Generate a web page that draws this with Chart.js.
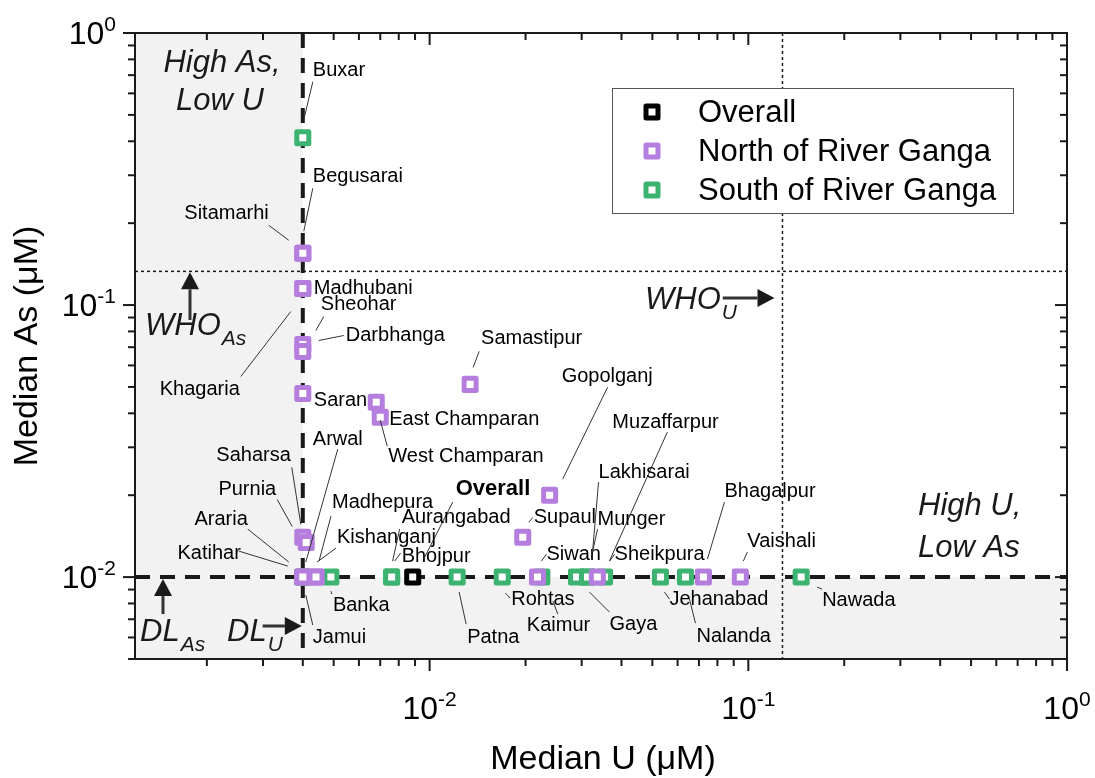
<!DOCTYPE html>
<html>
<head>
<meta charset="utf-8">
<script src="https://cdn.jsdelivr.net/npm/chart.js@4.4.1/dist/chart.umd.min.js"></script>
<style>
  html, body { margin: 0; padding: 0; background: #fff; }
</style>
</head>
<body>
<canvas id="chart" width="1095" height="778"></canvas>
<script>
// ------------ DATA (median values, µM) ---------------
const overallU = [0.00885];
const overallAs = [0.01];

const northNames = ['Begusarai', 'Sitamarhi', 'Madhubani', 'Khagaria', 'Sheohar', 'Darbhanga', 'Saran',
  'East Champaran', 'West Champaran', 'Samastipur', 'Gopolganj', 'Supaul', 'Saharsa', 'Purnia',
  'Araria', 'Katihar', 'Madhepura', 'Kishanganj', 'Siwan', 'Muzaffarpur', 'Bhagalpur', 'Vaishali'];
const northU = [0.004, 0.004, 0.004, 0.004, 0.004, 0.004, 0.004,
  0.0068, 0.0070, 0.0134, 0.0238, 0.0196, 0.004, 0.0041,
  0.004, 0.004, 0.0044, 0.0044, 0.0218, 0.0336, 0.0723, 0.0944];
const northAs = [0.155, 0.155, 0.115, 0.115, 0.0716, 0.0675, 0.0473,
  0.0439, 0.0387, 0.0511, 0.0200, 0.0140, 0.0140, 0.0134,
  0.01, 0.01, 0.01, 0.01, 0.01, 0.01, 0.01, 0.01];

const southNames = ['Buxar', 'Arwal', 'Jamui', 'Banka', 'Aurangabad', 'Bhojpur', 'Patna', 'Rohtas',
  'Kaimur', 'Gaya', 'Lakhisarai', 'Munger', 'Sheikpura', 'Jehanabad', 'Nalanda', 'Nawada'];
const southU = [0.004, 0.004, 0.004, 0.0049, 0.0076, 0.0076, 0.0122, 0.0169,
  0.0225, 0.0289, 0.0313, 0.0313, 0.0354, 0.0530, 0.0635, 0.1465];
const southAs = [0.412, 0.01, 0.01, 0.01, 0.01, 0.01, 0.01, 0.01,
  0.01, 0.01, 0.01, 0.01, 0.01, 0.01, 0.01, 0.01];

// thresholds
const dlU = 0.004, dlAs = 0.01;
const whoU = 0.128, whoAs = 0.133;

// axis decades shown with labels
const xDecades = [0.01, 0.1, 1];
const yDecades = [0.01, 0.1, 1];

// ------------ LABEL LAYOUT (px offsets from the marker) ---------------
// [dx, dy, align, leader x1, y1, x2, y2]
const labelLayout = {
  'Overall':        [43, -88, 'left', 12, -20, 40, -75],
  'Buxar':          [10, -67, 'left', 1, -18, 10, -56],
  'Begusarai':      [10, -77, 'left', 1, -22, 10, -65],
  'Sitamarhi':      [-34, -40, 'right', -14, -13, -34, -28],
  'Madhubani':      [11, 0, 'left'],
  'Khagaria':       [-63, 101, 'right', -12, 23, -62, 88],
  'Sheohar':        [18, -40, 'left', 13, -14, 21, -28],
  'Darbhanga':      [43, -16, 'left', 16, -11, 41, -16],
  'Saran':          [11, 7, 'left'],
  'East Champaran': [13, 17, 'left'],
  'West Champaran': [8, 39, 'left', 0, 3, 7, 29],
  'Samastipur':     [11, -46, 'left', 3, -17, 9, -33],
  'Gopolganj':      [12, -119, 'left', 13, -16, 58, -108],
  'Supaul':         [11, -20, 'left', 6, -15, 10, -20],
  'Saharsa':        [-12, -82, 'right', -2, -13, -11, -70],
  'Purnia':         [-30, -53, 'right', -14, -16, -29, -43],
  'Arwal':          [10, -138, 'left', 3, -15, 35, -128],
  'Araria':         [-55, -58, 'right', -14, -15, -55, -48],
  'Katihar':        [-62, -24, 'right', -15, -11, -64, -26],
  'Jamui':          [10, 60, 'left', 3, 18, 10, 48],
  'Madhepura':      [16, -75, 'left', 3, -16, 15, -61],
  'Kishanganj':     [21, -40, 'left', 1, -15, 20, -29],
  'Banka':          [2, 28, 'left', 0, 14, 1, 17],
  'Aurangabad':     [10, -60, 'left', 1, -16, 8, -48],
  'Bhojpur':        [10, -21, 'left', 3, -16, 9, -24],
  'Patna':          [10, 60, 'left', 2, 15, 9, 47],
  'Rohtas':         [9, 22, 'left', 3, 16, 8, 21],
  'Kaimur':         [-15, 48, 'left', 11, 24, 16, 37],
  'Siwan':          [9, -23, 'left', 4, -16, 9, -23],
  'Lakhisarai':     [11, -105, 'left', 5, -25, 11, -95],
  'Munger':         [10, -58, 'left', 5, -25, 10, -48],
  'Gaya':           [33, 47, 'left', 13, 15, 33, 35],
  'Muzaffarpur':    [15, -155, 'left', 12, -16, 70, -145],
  'Sheikpura':      [10, -23, 'left', 5, -16, 10, -23],
  'Jehanabad':      [9, 22, 'left', 4, 15, 9, 22],
  'Nalanda':        [11, 59, 'left', 4, 22, 10, 46],
  'Bhagalpur':      [21, -86, 'left', 4, -18, 21, -75],
  'Vaishali':       [7, -36, 'left', 3, -16, 7, -25],
  'Nawada':         [21, 23, 'left', 16, 10, 21, 12]
};

const FONT = '"Liberation Sans", Arial, sans-serif';
const INK = '#1a1a1a';

const toPoints = (names, us, as) => us.map((u, i) => ({ x: u, y: as[i], name: names[i] }));

function line(ctx, x1, y1, x2, y2) {
  ctx.beginPath();
  ctx.moveTo(x1, y1);
  ctx.lineTo(x2, y2);
  ctx.stroke();
}

function arrow(ctx, x1, y1, x2, y2) {
  const ang = Math.atan2(y2 - y1, x2 - x1);
  const head = 17, half = 9;
  const bx = x2 - head * Math.cos(ang), by = y2 - head * Math.sin(ang);
  ctx.lineWidth = 3;
  ctx.setLineDash([]);
  line(ctx, x1, y1, bx, by);
  ctx.beginPath();
  ctx.moveTo(x2, y2);
  ctx.lineTo(bx + half * Math.sin(ang), by - half * Math.cos(ang));
  ctx.lineTo(bx - half * Math.sin(ang), by + half * Math.cos(ang));
  ctx.closePath();
  ctx.fill();
}

// italic text with subscript, returns width of main part
function subText(ctx, main, sub, x, y) {
  ctx.textAlign = 'left';
  ctx.textBaseline = 'middle';
  ctx.font = 'italic 31px ' + FONT;
  ctx.fillText(main, x, y);
  const w = ctx.measureText(main).width;
  ctx.font = 'italic 21px ' + FONT;
  ctx.fillText(sub, x + w + 1, y + 13);
  return w;
}

function powLabel(ctx, exp, x, y, align) {
  ctx.textBaseline = 'middle';
  ctx.textAlign = 'left';
  ctx.font = '32px ' + FONT;
  const wb = ctx.measureText('10').width;
  ctx.font = '21px ' + FONT;
  const ws = ctx.measureText(exp).width;
  let left = align === 'right' ? x - wb - ws : x - (wb + ws) / 2;
  ctx.font = '32px ' + FONT;
  ctx.fillText('10', left, y);
  ctx.font = '21px ' + FONT;
  ctx.fillText(exp, left + wb, y - 10);
}

function marker(ctx, x, y, color) {
  ctx.save();
  ctx.lineJoin = 'round';
  ctx.lineWidth = 5;
  ctx.strokeStyle = color;
  ctx.fillStyle = '#fff';
  ctx.fillRect(x - 6, y - 6, 12, 12);
  ctx.strokeRect(x - 6, y - 6, 12, 12);
  ctx.restore();
}

const decor = {
  id: 'decor',
  beforeDatasetsDraw(chart) {
    const { ctx, chartArea: a, scales: { x, y } } = chart;
    const xd = x.getPixelForValue(dlU), yd = y.getPixelForValue(dlAs);
    const xw = x.getPixelForValue(whoU), yw = y.getPixelForValue(whoAs);
    ctx.save();
    // shaded "below detection" zones
    ctx.fillStyle = '#f2f2f2';
    ctx.fillRect(a.left, a.top, xd - a.left, a.bottom - a.top);
    ctx.fillRect(a.left, yd, a.right - a.left, a.bottom - yd);
    // WHO guideline lines
    ctx.strokeStyle = INK;
    ctx.lineWidth = 1.5;
    ctx.setLineDash([3, 3]);
    line(ctx, a.left, yw, a.right, yw);
    line(ctx, xw, a.top, xw, a.bottom);
    // detection limits
    ctx.lineWidth = 4;
    ctx.setLineDash([15, 10]);
    line(ctx, xd, a.top, xd, a.bottom);
    line(ctx, a.left, yd, a.right, yd);
    ctx.restore();
    ctx.lineJoin = 'round';
  },
  afterDatasetsDraw(chart) {
    chart.ctx.lineJoin = 'miter';
  },
  afterDraw(chart) {
    const { ctx, chartArea: a, scales: { x, y } } = chart;
    ctx.save();

    // ---- frame and ticks
    ctx.strokeStyle = INK;
    ctx.fillStyle = INK;
    ctx.lineWidth = 2;
    ctx.setLineDash([]);
    ctx.strokeRect(a.left, a.top, a.right - a.left, a.bottom - a.top);
    for (let e = -4; e <= 0; e++) {
      for (let m = 1; m <= 9; m++) {
        const v = m * Math.pow(10, e);
        const major = m === 1;
        const len = major ? 12 : 7;
        if (v >= x.min * 0.999 && v <= x.max * 1.001) {
          const px = x.getPixelForValue(v);
          line(ctx, px, a.bottom, px, a.bottom + len);
          line(ctx, px, a.top, px, a.top + len);
        }
        if (v >= y.min * 0.999 && v <= y.max * 1.001) {
          const py = y.getPixelForValue(v);
          line(ctx, a.left, py, a.left - len, py);
          line(ctx, a.right, py, a.right - len, py);
        }
      }
    }
    ctx.fillStyle = '#000';
    xDecades.forEach(v => powLabel(ctx, String(Math.round(Math.log10(v))), x.getPixelForValue(v), 710, 'center'));
    yDecades.forEach(v => powLabel(ctx, String(Math.round(Math.log10(v))), a.left - 19, y.getPixelForValue(v) + 2, 'right'));

    // ---- axis titles
    ctx.font = '34px ' + FONT;
    ctx.textAlign = 'center';
    ctx.textBaseline = 'middle';
    ctx.fillText('Median U (μM)', 603, 760);
    ctx.save();
    ctx.translate(28, 346);
    ctx.rotate(-Math.PI / 2);
    ctx.fillText('Median As (μM)', 0, 0);
    ctx.restore();

    // ---- leader lines and district labels
    chart.data.datasets.forEach(ds => {
      ds.data.forEach(p => {
        const lay = labelLayout[p.name];
        if (!lay) return;
        const px = x.getPixelForValue(p.x), py = y.getPixelForValue(p.y);
        if (lay.length > 3) {
          ctx.strokeStyle = '#333';
          ctx.lineWidth = 1;
          line(ctx, px + lay[3], py + lay[4], px + lay[5], py + lay[6]);
        }
        ctx.fillStyle = '#000';
        ctx.font = (p.name === 'Overall' ? 'bold 22px ' : '20px ') + FONT;
        ctx.textAlign = lay[2];
        ctx.textBaseline = 'middle';
        ctx.fillText(p.name, px + lay[0], py + lay[1]);
      });
    });

    // ---- quadrant notes
    const xd = x.getPixelForValue(dlU), yd = y.getPixelForValue(dlAs);
    const xw = x.getPixelForValue(whoU), yw = y.getPixelForValue(whoAs);
    ctx.fillStyle = INK;
    ctx.font = 'italic 31px ' + FONT;
    ctx.textAlign = 'center';
    ctx.fillText('High As,', 222, 63);
    ctx.fillText('Low U', 220, 101);
    ctx.textAlign = 'left';
    ctx.fillText('High U,', 918, 506);
    ctx.fillText('Low As', 918, 548);

    // ---- threshold markers
    subText(ctx, 'WHO', 'As', 145, 326);
    arrow(ctx, 190, 320, 190, yw + 1);
    const wU = subText(ctx, 'WHO', 'U', 645, 300);
    arrow(ctx, 645 + wU + 2, 298, xw - 8, 298);
    subText(ctx, 'DL', 'As', 140, 632);
    arrow(ctx, 163, 614, 163, yd + 2);
    const wD = subText(ctx, 'DL', 'U', 227, 632);
    arrow(ctx, 227 + wD - 4, 626, xd - 1, 626);

    // ---- legend
    const lx = 612, ly = 88, lw = 401, lh = 125;
    ctx.fillStyle = '#fff';
    ctx.fillRect(lx, ly, lw, lh);
    ctx.strokeStyle = '#555';
    ctx.lineWidth = 1;
    ctx.strokeRect(lx + 0.5, ly + 0.5, lw, lh);
    chart.data.datasets.forEach((ds, i) => {
      const ry = ly + 24 + i * 39;
      marker(ctx, lx + 40, ry, ds.borderColor);
      ctx.fillStyle = '#000';
      ctx.font = '31px ' + FONT;
      ctx.textAlign = 'left';
      ctx.textBaseline = 'middle';
      ctx.fillText(ds.label, lx + 86, ry + 1);
    });

    ctx.restore();
  }
};

new Chart(document.getElementById('chart'), {
  type: 'scatter',
  data: {
    datasets: [
      {
        label: 'Overall',
        data: toPoints(['Overall'], overallU, overallAs),
        borderColor: '#000000'
      },
      {
        label: 'North of River Ganga',
        data: toPoints(northNames, northU, northAs),
        borderColor: '#b57ede'
      },
      {
        label: 'South of River Ganga',
        data: toPoints(southNames, southU, southAs),
        borderColor: '#3cb371'
      }
    ]
  },
  options: {
    responsive: false,
    animation: false,
    layout: { padding: { left: 135, right: 28, top: 33, bottom: 119 } },
    elements: {
      point: { pointStyle: 'rect', radius: 8.5, borderWidth: 5, backgroundColor: '#ffffff', hoverRadius: 8.5 }
    },
    scales: {
      x: { type: 'logarithmic', min: 0.00119, max: 1, display: false },
      y: { type: 'logarithmic', min: 0.005, max: 1, display: false }
    },
    plugins: {
      legend: { display: false },
      tooltip: { enabled: false }
    }
  },
  plugins: [decor]
});
</script>
</body>
</html>
